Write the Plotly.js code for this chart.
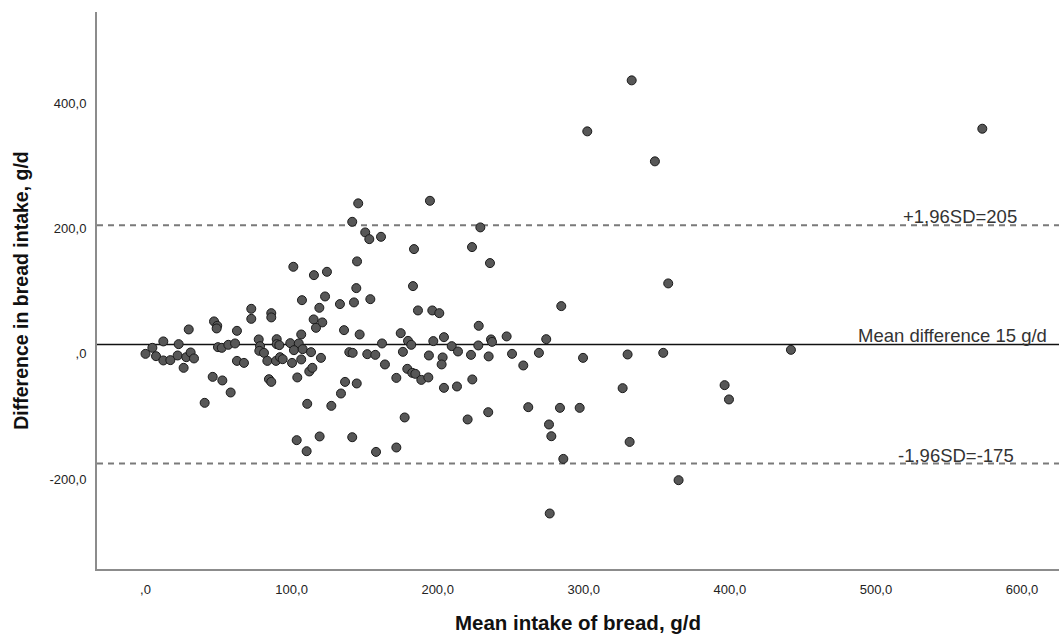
<!DOCTYPE html>
<html><head><meta charset="utf-8">
<script src="https://cdn.plot.ly/plotly-3.0.1.min.js"></script>
<style>html,body{margin:0;padding:0;background:#fff}#chart{width:1059px;height:634px}</style>
</head><body><div id="chart"></div>
<script>
// Mean of the two methods (g/d)
const meanIntake = [
 141.5,150.4,153.2,161.2,183.8,144.8,101.2,115.3,124.2,144.3,
 183.1,107.1,122.9,133.1,142.7,153.9,119.0,186.5,196.3,201.1,
 72.4,72.4,86.1,86.1,46.9,49.1,48.7,29.6,62.6,115.1,
 121.0,116.7,106.6,135.9,146.6,174.7,204.3,12.2,4.7,0.0,
 7.2,12.2,17.0,22.7,22.0,27.9,30.9,33.2,26.1,49.6,
 52.2,56.7,61.3,62.6,67.4,46.0,52.6,58.3,40.5,77.5,
 78.4,77.9,81.1,83.4,89.8,89.8,91.6,89.3,92.1,93.9,
 84.5,86.1,99.1,104.9,101.6,107.6,100.3,106.6,113.3,120.1,
 103.9,112.1,114.2,110.7,139.5,141.8,151.8,157.3,161.9,163.9,
 136.6,144.6,133.8,171.7,179.2,182.6,184.7,188.8,193.6,176.2,
 179.7,181.9,197.0,194.0,203.4,202.7,204.3,209.6,127.2,177.4,
 103.5,110.3,119.2,141.5,157.8,171.7,332.8,302.4,348.7,194.7,
 229.2,223.5,235.8,357.8,284.6,228.1,213.9,222.8,227.8,234.9,
 236.5,237.2,247.2,250.9,258.6,269.3,274.3,299.5,330.0,354.4,
 441.8,213.2,223.7,220.5,234.6,262.0,283.7,297.2,326.6,276.2,
 277.8,286.0,331.4,276.7,364.9,396.4,399.4,572.8,145.6
];
// Difference between the two methods (g/d)
const difference = [
 210.5,193.6,182.9,186.6,167.0,147.4,138.8,125.5,130.8,104.8,
 108.0,85.6,91.5,79.3,82.0,87.2,73.4,69.2,69.2,64.9,
 71.8,55.8,64.9,58.1,51.7,44.7,40.5,38.9,36.7,54.9,
 50.1,41.5,30.9,37.8,30.9,33.0,26.6,19.8,9.6,0.0,
 -3.7,-10.5,-10.0,15.5,-2.6,-5.3,2.2,-7.3,-22.3,10.7,
 9.6,14.4,16.6,-11.2,-14.4,-36.7,-42.4,-61.6,-78.1,23.0,
 12.3,4.8,1.6,-11.2,23.4,15.5,13.9,-11.2,-5.3,-8.5,
 -40.4,-44.7,17.1,16.6,5.9,7.5,-14.4,-8.9,2.7,-6.4,
 -37.6,-28.1,-22.3,-79.7,2.7,1.6,-0.5,-1.6,16.6,-16.9,
 -44.7,-47.2,-63.2,-38.3,-23.9,-30.3,-31.9,-41.5,-37.6,3.2,
 20.7,14.4,20.3,-2.6,-5.7,-16.9,-54.2,12.3,-82.9,-101.4,
 -137.6,-155.2,-131.7,-132.9,-156.3,-149.3,436.0,354.7,306.9,244.0,
 201.6,170.2,144.7,112.3,76.1,44.7,3.8,-1.6,13.4,-4.1,
 23.0,19.1,27.8,0.0,-18.5,1.6,23.4,-6.4,-1.0,1.6,
 6.4,-52.0,-40.8,-104.6,-93.0,-85.0,-86.1,-86.1,-54.7,-112.6,
 -131.3,-167.5,-140.4,-254.5,-201.4,-49.9,-72.7,358.9,239.9
];
const xTickValues = [0,100,200,300,400,500,600];
const xTickLabels = [",0","100,0","200,0","300,0","400,0","500,0","600,0"];
const yTickValues = [-200,0,200,400];
const yTickLabels = ["-200,0",",0","200,0","400,0"];
// Bland-Altman reference lines: upper limit, mean difference, lower limit
const limitValues = [205, 15, -175];
const limitLabels = ["+1,96SD=205","Mean difference 15 g/d","-1,96SD=-175"];

const FONT = "Liberation Sans, Arial, sans-serif";
const labelX = [557.5, 552.4, 554.8];
const lineStyles = [
  {color:"#7a7a7a", width:2, dash:"6px,5px"},
  {color:"#111111", width:1.5, dash:"solid"},
  {color:"#7a7a7a", width:2, dash:"6px,5px"}
];

const shapes = limitValues.map((v,i)=>({
  type:"line", xref:"paper", x0:0, x1:1, yref:"y", y0:v, y1:v,
  line: lineStyles[i], layer:"below"
}));
const annotations = limitValues.map((v,i)=>({
  xref:"x", yref:"y", x:labelX[i], y:v, text:limitLabels[i],
  showarrow:false, xanchor:"center", yanchor:"bottom", yshift:-4,
  font:{family:FONT, size:18.5, color:"#333"}
}));

const trace = {
  type:"scatter", mode:"markers", x:meanIntake, y:difference,
  marker:{size:9, color:"#575757", line:{color:"#1a1a1a", width:1}},
  hoverinfo:"none", cliponaxis:false
};

const layout = {
  width:1059, height:634,
  margin:{l:97, r:0, t:12, b:65},
  paper_bgcolor:"#fff", plot_bgcolor:"#fff",
  showlegend:false,
  font:{family:FONT, color:"#222"},
  xaxis:{
    range:[-33.2, 625.3], showgrid:false, zeroline:false,
    showline:true, linecolor:"#8c8c8c", linewidth:2,
    ticks:"", tickvals:xTickValues, ticktext:xTickLabels,
    tickfont:{size:13, color:"#222", family:FONT}, ticklabelstandoff:7,
    title:{text:"<b>Mean intake of bread, g/d</b>", font:{size:20.5, color:"#111", family:FONT}, standoff:20}
  },
  yaxis:{
    range:[-343, 545], showgrid:false, zeroline:false,
    showline:true, linecolor:"#8c8c8c", linewidth:2,
    ticks:"", tickvals:yTickValues, ticktext:yTickLabels,
    tickfont:{size:13, color:"#222", family:FONT}, ticklabelstandoff:6,
    title:{text:"<b>Difference in bread intake, g/d</b>", font:{size:19.5, color:"#111", family:FONT}, standoff:16}
  },
  shapes:shapes,
  annotations:annotations
};
Plotly.newPlot("chart", [trace], layout, {displayModeBar:false, staticPlot:true});
</script>
</body></html>
